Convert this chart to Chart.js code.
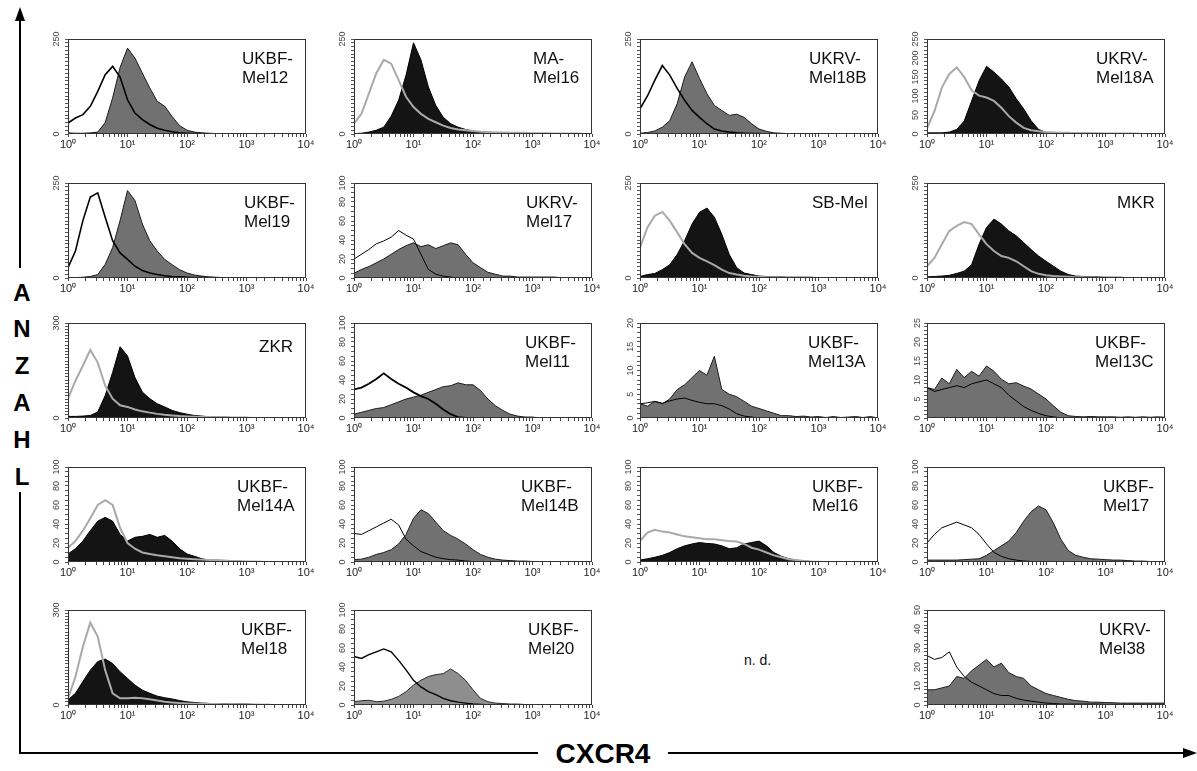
<!DOCTYPE html>
<html>
<head>
<meta charset="utf-8">
<script src="https://cdn.jsdelivr.net/npm/chart.js@4.4.1/dist/chart.umd.min.js"></script>
<style>
  body { margin: 0; background: #fff; width: 1197px; height: 771px; position: relative; overflow: hidden;
         font-family: "Liberation Sans", Arial, sans-serif; }
  canvas { position: absolute; }
  .name { position: absolute; font-size: 17px; line-height: 19px; color: #111; white-space: nowrap; z-index: 2; }
  .letter { position: absolute; left: 7px; width: 30px; text-align: center; font-weight: bold; font-size: 24px; line-height: 24px; }
  .bar { position: absolute; background: #000; }
</style>
</head>
<body>
<script>
// channel positions (CXCR4 fluorescence, 8 bins per decade)
const BIN_CENTERS = [1, 1.334, 1.778, 2.371, 3.162, 4.217, 5.623, 7.499, 10, 13.34, 17.78, 23.71, 31.62, 42.17, 56.23, 74.99,
  100, 133.4, 177.8, 237.1, 316.2, 421.7, 562.3, 749.9, 1000, 1334, 1778, 2371, 3162, 4217, 5623, 7499, 10000];

const DECADE_LABELS = { 1: '10⁰', 10: '10¹', 100: '10²', 1000: '10³', 10000: '10⁴' };

// counts per bin: stained (filled) and control (outline)
const MEL12_STAINED = [3,2,2,3,5, 30,95,175,226,200, 160,121,86,73,46, 22,10,5,3,2, 1,1,0,0,0, 0,0,0,0,0, 0,0,0];
const MEL12_CONTROL = [29,42,51,73,112, 156,178,150,90,55, 38,25,15,10,6, 3,2,1,1,0, 0,0,0,0,0, 0,0,0,0,0, 0,0,0];
const MAMEL16_STAINED = [1,2,5,10,18, 47,89,155,240,195, 124,75,44,27,18, 12,8,5,4,3, 3,2,2,2,1, 1,1,1,1,0, 0,0,0];
const MAMEL16_CONTROL = [27,53,106,160,195, 185,142,98,71,53, 40,31,22,16,12, 10,8,6,5,4, 4,3,3,3,2, 2,2,1,1,1, 1,0,0];
const MEL18B_STAINED = [2,4,8,18,35, 80,150,190,146,106, 75,62,49,52,44, 27,13,7,3,2, 1,1,0,0,0, 0,0,0,0,0, 0,0,0];
const MEL18B_CONTROL = [66,100,142,180,155, 120,89,62,44,27, 13,8,5,3,2, 1,1,0,0,0, 0,0,0,0,0, 0,0,0,0,0, 0,0,0];
const MEL18A_STAINED = [3,3,3,5,12, 34,87,140,178,163, 145,124,93,66,35, 12,4,3,2,2, 2,2,2,1,1, 1,1,1,0,0, 0,0,0];
const MEL18A_CONTROL = [15,60,122,158,175, 150,115,101,96,87, 69,47,30,16,10, 7,5,4,3,3, 2,2,2,2,1, 1,1,1,1,0, 0,0,0];
const MEL19_STAINED = [1,1,2,4,9, 36,80,151,230,204, 142,98,71,49,35, 22,13,8,5,3, 2,1,1,1,0, 0,0,0,0,0, 0,0,0];
const MEL19_CONTROL = [27,71,151,213,224, 160,98,66,49,31, 20,13,9,6,4, 3,2,1,1,0, 0,0,0,0,0, 0,0,0,0,0, 0,0,0];
const RV_MEL17_STAINED = [5,9,12,16,20, 25,30,34,37,33, 35,31,34,37,35, 25,16,11,6,4, 2,2,1,1,1, 1,1,1,0,0, 0,0,0];
const RV_MEL17_CONTROL = [20,25,30,36,39, 43,50,45,41,25, 9,4,2,1,0, 0,0,0,0,0, 0,0,0,0,0, 0,0,0,0,0, 0,0,0];
const SBMEL_STAINED = [4,9,12,22,35, 62,98,142,173,184, 160,115,62,27,13, 9,5,4,3,3, 2,2,2,2,1, 1,1,1,1,0, 0,0,0];
const SBMEL_CONTROL = [80,133,164,174,151, 120,89,66,53,44, 34,22,13,9,6, 4,3,2,2,1, 1,1,1,0,0, 0,0,0,0,0, 0,0,0];
const MKR_STAINED = [3,4,5,7,12, 18,35,89,133,155, 142,124,111,93,75, 58,44,31,18,9, 5,4,3,3,2, 2,2,1,1,1, 0,0,0];
const MKR_CONTROL = [31,53,89,124,137, 147,142,115,89,71, 58,53,44,31,18, 11,7,5,4,3, 2,2,1,1,1, 0,0,0,0,0, 0,0,0];
const ZKR_STAINED = [5,5,6,8,19, 71,144,225,196,128, 82,61,45,35,24, 17,12,8,6,4, 3,3,2,2,2, 1,1,1,1,0, 0,0,0];
const ZKR_CONTROL = [61,118,165,215,175, 102,61,40,35,27, 21,17,13,10,8, 6,5,4,3,3, 2,2,1,1,1, 0,0,0,0,0, 0,0,0];
const MEL11_STAINED = [4,6,8,10,11, 14,17,20,22,24, 27,30,33,34,37, 35,35,29,20,13, 8,4,2,1,1, 0,0,0,0,0, 0,0,0];
const MEL11_CONTROL = [30,32,36,41,47, 41,36,32,27,23, 20,15,9,4,1, 0,0,0,0,0, 0,0,0,0,0, 0,0,0,0,0, 0,0,0];
const MEL13A_STAINED = [3,2.5,3.5,3,4, 6,7,8.5,10,9, 13,6,5,4.5,3.5, 2.5,2,1.5,1,0.5, 0.5,0.3,0.4,0.2,0.3, 0.1,0.3,0.1,0.2,0.3, 0.1,0.3,0];
const MEL13A_CONTROL = [3,3.2,3.5,3.1,3.6, 4,4.2,3.7,3.3,3, 3,2.6,1.9,0.9,0.4, 0.2,0,0,0,0, 0,0,0,0,0, 0,0,0,0,0, 0,0,0];
const MEL13C_STAINED = [8,7.5,10.5,9,12.8, 10.6,12.3,11,13.7,12.3, 10.2,9,9.3,8.4,7.6, 6.3,5,3.2,1.5,0.6, 0.4,0.3,0.4,0.3,0.3, 0.3,0.2,0.3,0.2,0.3, 0.2,0.3,0.2];
const MEL13C_CONTROL = [8,7,7.5,8,8.5, 8,9,9.5,10,9, 8,6,4.5,3,2, 1.2,0.6,0.3,0,0, 0,0,0,0,0, 0,0,0,0,0, 0,0,0];
const MEL14A_STAINED = [8.5,14,22,33,43, 47,43,29,22,26, 27,29,26,28,22, 14,8.5,6,3.4,2, 1.5,1,1,0.5,0.5, 0.3,0.3,0,0,0, 0,0,0];
const MEL14A_CONTROL = [15,22,33,46,60, 65,60,36,20,14, 10,8.5,7,6,5, 4,3.5,3,2.5,2, 2,1.5,1,1,0.5, 0.5,0.3,0,0,0, 0,0,0];
const MEL14B_STAINED = [2.5,3,5,8,10, 13,19,29,46,55, 51,42,33,28,24, 19,13,8,5,3, 2,1.5,1,1,0.5, 0.5,0.3,0.3,0,0, 0,0,0];
const MEL14B_CONTROL = [30,29,33,37,41, 45,39,24,17,11, 8,5,3.5,2.5,2, 1,0.5,0,0,0, 0,0,0,0,0, 0,0,0,0,0, 0,0,0];
const MEL16_STAINED = [2,3.4,5,7,10, 14,17,19,20.5,19.5, 19,17,14,15,19, 20.5,22,17,10,6, 3.4,2,1,0.5,0.3, 0,0,0,0,0, 0,0,0];
const MEL16_CONTROL = [22,31,34,32,31, 29,27,26,25,24, 24,23,22,21.5,19, 15,13,10,7,5, 3,2,1,0.5,0.3, 0,0,0,0,0, 0,0,0];
const BF_MEL17_STAINED = [2,2,2,2,2, 2.5,3,3.4,7,12, 17,22,31,43,53, 59,55,41,24,12, 7,5,3.4,3,2.5, 2,2,1.5,1,1, 0.5,0.5,0.3];
const BF_MEL17_CONTROL = [20,29,36,39,42, 39,36,29,19,10, 6,3.4,2,1,0.5, 0,0,0,0,0, 0,0,0,0,0, 0,0,0,0,0, 0,0,0];
const MEL18_STAINED = [16,37,74,110,137, 145,131,105,84,63, 47,37,28,23,19, 14,10,8,6,5, 4,4,3,3,3, 2,2,2,1,1, 1,0,0];
const MEL18_CONTROL = [21,89,184,260,216, 110,37,21,21,23, 21,18,14,10,8, 6,5,4,4,3, 3,2,2,1,1, 1,0,0,0,0, 0,0,0];
const MEL20_STAINED = [3.5,4.5,5,3.5,4, 6,9,14,21,26, 30,32,33,38,33, 26,16,7,3.5,2, 1.5,1,1,0.5,0.3, 0,0,0,0,0, 0,0,0];
const MEL20_CONTROL = [51,49,53,56,59, 56,47,37,26,19, 14,11,7,4.5,3, 2,1,0.5,0,0, 0,0,0,0,0, 0,0,0,0,0, 0,0,0];
const MEL38_STAINED = [8,8,9,10,15, 14,18,21,24,20, 22,17,15,14,10, 8,6,5,4,3, 2.3,2,1.5,1.5,1.3, 1.2,1,1,1,1, 1,1,1];
const MEL38_CONTROL = [26,24,25,28,20, 15,12,10,8,6, 5,5,3.5,2.6,2, 1.5,1,0.8,0.5,0.5, 0.5,0.5,0.5,0.5,0.3, 0.3,0.3,0.3,0.3,0.3, 0.3,0.3,0.3];

const Y_250 = [0, 250];
const Y_300 = [0, 300];
const Y_100 = [0, 20, 40, 60, 80, 100];

// layout
const ROW_TOPS = [39, 183, 323, 467, 610];
const COL_LEFTS = [68, 354, 640, 927];
const PLOT_W = 238, PLOT_H = 95;
const AXIS_W = 20, AXIS_H = 20, PAD_T = 10, PAD_R = 14;

const THEMES = {
    grey: { fill: '#717171', edge: '#1c1c1c', ctrl: '#000' },
    pale: { fill: '#8e8e8e', edge: '#2a2a2a', ctrl: '#000' },
    dark: { fill: '#141414', edge: '#000', ctrl: '#a9a9a9' },
};

const PANELS = [
    { name: ['UKBF-', 'Mel12'], row: 0, col: 0, stained: MEL12_STAINED, control: MEL12_CONTROL, yMax: 250, yStep: 10, yLabels: Y_250, theme: 'grey', lw: 1.6, dx: 64 },
    { name: ['MA-', 'Mel16'], row: 0, col: 1, stained: MAMEL16_STAINED, control: MAMEL16_CONTROL, yMax: 250, yStep: 10, yLabels: Y_250, theme: 'dark', lw: 2, dx: 59 },
    { name: ['UKRV-', 'Mel18B'], row: 0, col: 2, stained: MEL18B_STAINED, control: MEL18B_CONTROL, yMax: 250, yStep: 10, yLabels: Y_250, theme: 'grey', lw: 1.6, dx: 69 },
    { name: ['UKRV-', 'Mel18A'], row: 0, col: 3, stained: MEL18A_STAINED, control: MEL18A_CONTROL, yMax: 250, yStep: 10, yLabels: [0, 50, 100, 150, 200, 250], theme: 'dark', lw: 2, dx: 69 },
    { name: ['UKBF-', 'Mel19'], row: 1, col: 0, stained: MEL19_STAINED, control: MEL19_CONTROL, yMax: 250, yStep: 10, yLabels: Y_250, theme: 'grey', lw: 1.6, dx: 62 },
    { name: ['UKRV-', 'Mel17'], row: 1, col: 1, stained: RV_MEL17_STAINED, control: RV_MEL17_CONTROL, yMax: 100, yStep: 5, yLabels: Y_100, theme: 'grey', lw: 1, dx: 66 },
    { name: ['SB-Mel'], row: 1, col: 2, stained: SBMEL_STAINED, control: SBMEL_CONTROL, yMax: 250, yStep: 10, yLabels: Y_250, theme: 'dark', lw: 2, dx: 66 },
    { name: ['MKR'], row: 1, col: 3, stained: MKR_STAINED, control: MKR_CONTROL, yMax: 250, yStep: 10, yLabels: Y_250, theme: 'dark', lw: 2, dx: 48 },
    { name: ['ZKR'], row: 2, col: 0, stained: ZKR_STAINED, control: ZKR_CONTROL, yMax: 300, yStep: 10, yLabels: Y_300, theme: 'dark', lw: 2, dx: 47, dy: 4 },
    { name: ['UKBF-', 'Mel11'], row: 2, col: 1, stained: MEL11_STAINED, control: MEL11_CONTROL, yMax: 100, yStep: 5, yLabels: Y_100, theme: 'grey', lw: 1.8, dx: 67 },
    { name: ['UKBF-', 'Mel13A'], row: 2, col: 2, stained: MEL13A_STAINED, control: MEL13A_CONTROL, yMax: 20, yStep: 1, yLabels: [0, 5, 10, 15, 20], theme: 'grey', lw: 1, dx: 70 },
    { name: ['UKBF-', 'Mel13C'], row: 2, col: 3, stained: MEL13C_STAINED, control: MEL13C_CONTROL, yMax: 25, yStep: 1, yLabels: [0, 5, 10, 15, 20, 25], theme: 'grey', lw: 1, dx: 70 },
    { name: ['UKBF-', 'Mel14A'], row: 3, col: 0, stained: MEL14A_STAINED, control: MEL14A_CONTROL, yMax: 100, yStep: 5, yLabels: Y_100, theme: 'dark', lw: 2, dx: 69 },
    { name: ['UKBF-', 'Mel14B'], row: 3, col: 1, stained: MEL14B_STAINED, control: MEL14B_CONTROL, yMax: 100, yStep: 5, yLabels: Y_100, theme: 'grey', lw: 1, dx: 71 },
    { name: ['UKBF-', 'Mel16'], row: 3, col: 2, stained: MEL16_STAINED, control: MEL16_CONTROL, yMax: 100, yStep: 5, yLabels: Y_100, theme: 'dark', lw: 2, dx: 66 },
    { name: ['UKBF-', 'Mel17'], row: 3, col: 3, stained: BF_MEL17_STAINED, control: BF_MEL17_CONTROL, yMax: 100, yStep: 5, yLabels: Y_100, theme: 'grey', lw: 1, dx: 62 },
    { name: ['UKBF-', 'Mel18'], row: 4, col: 0, stained: MEL18_STAINED, control: MEL18_CONTROL, yMax: 300, yStep: 10, yLabels: Y_300, theme: 'dark', lw: 2, dx: 65 },
    { name: ['UKBF-', 'Mel20'], row: 4, col: 1, stained: MEL20_STAINED, control: MEL20_CONTROL, yMax: 100, yStep: 5, yLabels: Y_100, theme: 'pale', lw: 1.4, dx: 64 },
    { name: ['UKRV-', 'Mel38'], row: 4, col: 3, stained: MEL38_STAINED, control: MEL38_CONTROL, yMax: 50, yStep: 2, yLabels: [0, 10, 20, 30, 40, 50], theme: 'grey', lw: 1, dx: 66 },
];

const framePlugin = {
    id: 'frame',
    afterDatasetsDraw(chart) {
        const { ctx, chartArea: a } = chart;
        ctx.save();
        ctx.strokeStyle = '#333';
        ctx.lineWidth = 1;
        ctx.strokeRect(Math.round(a.left) + 0.5, Math.round(a.top) + 0.5, Math.round(a.width) - 1, Math.round(a.height) - 1);
        ctx.restore();
    }
};

function addDiv(cls, style, html) {
    const d = document.createElement('div');
    d.className = cls;
    Object.assign(d.style, style);
    d.innerHTML = html;
    document.body.appendChild(d);
    return d;
}

function makePanel(p) {
    const left = COL_LEFTS[p.col], top = ROW_TOPS[p.row];
    const theme = THEMES[p.theme];
    const canvas = document.createElement('canvas');
    canvas.width = PLOT_W + AXIS_W + PAD_R;
    canvas.height = PLOT_H + PAD_T + AXIS_H;
    canvas.style.left = (left - AXIS_W) + 'px';
    canvas.style.top = (top - PAD_T) + 'px';
    document.body.appendChild(canvas);

    new Chart(canvas, {
        type: 'line',
        data: {
            labels: BIN_CENTERS,
            datasets: [{
                label: 'control',
                data: p.control,
                borderColor: theme.ctrl,
                borderWidth: p.lw,
                pointRadius: 0,
                fill: false,
                order: 0,
            }, {
                label: 'CXCR4',
                data: p.stained,
                borderColor: theme.edge,
                borderWidth: 1,
                backgroundColor: theme.fill,
                pointRadius: 0,
                fill: 'origin',
                order: 1,
            }]
        },
        options: {
            responsive: false,
            animation: false,
            devicePixelRatio: 1,
            layout: { padding: { top: PAD_T, right: PAD_R, left: 0, bottom: 0 } },
            plugins: { legend: { display: false }, tooltip: { enabled: false } },
            scales: {
                x: {
                    type: 'logarithmic',
                    min: 1,
                    max: 10000,
                    afterFit: s => { s.height = AXIS_H; },
                    border: { display: false },
                    grid: { drawOnChartArea: false, tickLength: 3, color: '#444' },
                    ticks: {
                        autoSkip: false, maxRotation: 0, minRotation: 0, padding: 1,
                        color: '#222', font: { size: 11, family: 'Liberation Sans, Arial' },
                        callback: v => DECADE_LABELS[v] ?? ''
                    }
                },
                y: {
                    min: 0,
                    max: p.yMax,
                    afterFit: s => { s.width = AXIS_W; },
                    border: { display: false },
                    grid: { drawOnChartArea: false, tickLength: 3, color: '#555' },
                    ticks: {
                        stepSize: p.yStep, autoSkip: false, minRotation: 90, maxRotation: 90, padding: 1,
                        crossAlign: 'center',
                        color: '#444', font: { size: 9, family: 'Liberation Sans, Arial' },
                        callback: v => p.yLabels.includes(v) ? String(v) : ''
                    }
                }
            }
        },
        plugins: [framePlugin]
    });

    addDiv('name', {
        left: (left + PLOT_W - p.dx) + 'px',
        top: (top + 10 + (p.dy || 0)) + 'px'
    }, p.name.join('<br>'));
}

PANELS.forEach(makePanel);

// "not determined" cell
addDiv('name', { left: '744px', top: '651px', fontSize: '14px' }, 'n. d.');

// y axis arrow with ANZAHL
addDiv('bar', { left: '19px', top: '18px', width: '2px', height: '250px' }, '');
addDiv('', { position: 'absolute', left: '15px', top: '7px', width: 0, height: 0,
    borderLeft: '5px solid transparent', borderRight: '5px solid transparent', borderBottom: '14px solid #000' }, '');
['A', 'N', 'Z', 'A', 'H', 'L'].forEach((ch, i) => {
    const centers = [292, 328, 365, 402, 439, 476];
    addDiv('letter', { top: (centers[i] - 11) + 'px' }, ch);
});
addDiv('bar', { left: '19px', top: '492px', width: '2px', height: '262px' }, '');

// x axis arrow with CXCR4
addDiv('bar', { left: '19px', top: '752px', width: '519px', height: '2px' }, '');
addDiv('', { position: 'absolute', left: '548px', top: '740px', width: '110px', textAlign: 'center',
    fontWeight: 'bold', fontSize: '28px', lineHeight: '28px' }, 'CXCR4');
addDiv('bar', { left: '668px', top: '752px', width: '516px', height: '2px' }, '');
addDiv('', { position: 'absolute', left: '1183px', top: '748px', width: 0, height: 0,
    borderTop: '5px solid transparent', borderBottom: '5px solid transparent', borderLeft: '14px solid #000' }, '');
</script>
</body>
</html>
